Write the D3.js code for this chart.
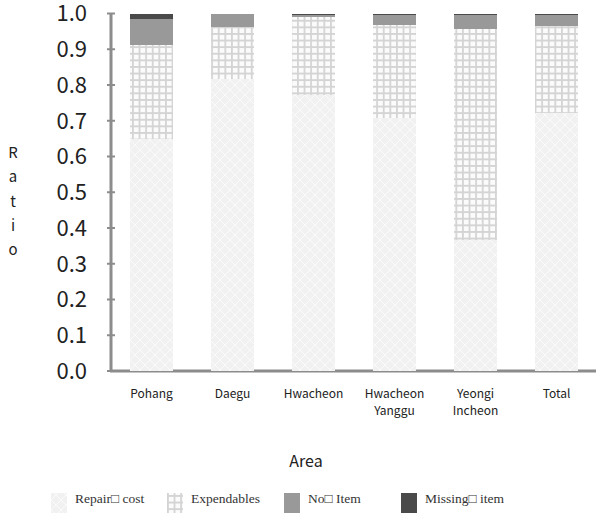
<!DOCTYPE html>
<html><head><meta charset="utf-8">
<script src="https://cdn.jsdelivr.net/npm/d3@7"></script>
<style>body{margin:0;background:#fff}svg{display:block}</style>
</head><body>
<svg id="c" width="596" height="514"></svg>
<script>
const categories = ["Pohang","Daegu","Hwacheon","Hwacheon\nYanggu","Yeongi\nIncheon","Total"];
const seriesNames = ["Repair\u25A1 cost","Expendables","No\u25A1 Item","Missing\u25A1 item"];
const repairCost  = [0.649, 0.818, 0.772, 0.708, 0.366, 0.722];
const expendables = [0.262, 0.145, 0.218, 0.260, 0.591, 0.243];
const noItem      = [0.075, 0.037, 0.006, 0.029, 0.040, 0.031];
const missingItem = [0.014, 0.000, 0.004, 0.003, 0.003, 0.004];
const yTicks = [0,0.1,0.2,0.3,0.4,0.5,0.6,0.7,0.8,0.9,1.0];

const svg = d3.select("#c");
const defs = svg.append("defs");
// repair pattern: light gray with faint white diamond lattice
const p1 = defs.append("pattern").attr("id","pRepair").attr("patternUnits","userSpaceOnUse").attr("width",10).attr("height",10);
p1.append("rect").attr("width",10).attr("height",10).attr("fill","#f1f1f1");
p1.append("path").attr("d","M0,0L10,10M10,0L0,10").attr("stroke","#fafafa").attr("stroke-width",1);
// expendables: grid
const p2 = defs.append("pattern").attr("id","pExp").attr("patternUnits","userSpaceOnUse").attr("width",6.6).attr("height",6.6);
p2.append("rect").attr("width",6.6).attr("height",6.6).attr("fill","#fbfbfb");
p2.append("path").attr("d","M0.9,0V6.6M0,0.9H6.6").attr("stroke","#d4d4d4").attr("stroke-width",1.8);

const fills = ["url(#pRepair)","url(#pExp)","#999999","#4a4a4a"];

const x = d3.scaleBand().domain(categories).range([111,597]).paddingInner(0.48).paddingOuter(0.24);
const y = d3.scaleLinear().domain([0,1]).range([371,13.5]);

const rows = categories.map((c,i)=>({cat:c, v:[repairCost[i],expendables[i],noItem[i],missingItem[i]]}));
const stacked = d3.stack().keys([0,1,2,3]).value((d,k)=>d.v[k])(rows);

// x axis line
svg.append("line").attr("x1",110).attr("x2",596).attr("y1",371).attr("y2",371)
  .attr("stroke","#8c8c8c").attr("stroke-width",3);

// bars
svg.selectAll("g.layer").data(stacked).join("g").attr("class","layer")
  .attr("fill",(d,i)=>fills[i])
  .selectAll("rect").data(d=>d).join("rect")
  .attr("x",d=>x(d.data.cat)).attr("width",x.bandwidth())
  .attr("y",d=>y(d[1])).attr("height",d=>Math.max(0,y(d[0])-y(d[1])))
  .attr("shape-rendering","crispEdges");

// y axis
const gy = svg.append("g");
gy.append("line").attr("x1",111).attr("x2",111).attr("y1",y(1)).attr("y2",372).attr("stroke","#8c8c8c").attr("stroke-width",3);
gy.selectAll("line.t").data(yTicks).join("line").attr("class","t")
  .attr("x1",107).attr("x2",115).attr("y1",d=>y(d)).attr("y2",d=>y(d))
  .attr("stroke","#8c8c8c").attr("stroke-width",2);
gy.selectAll("text").data(yTicks).join("text")
  .attr("x",87).attr("y",d=>y(d)).attr("dy","0.36em").attr("text-anchor","end")
  .attr("font-family","'Noto Sans CJK KR', 'Noto Sans', sans-serif").attr("font-size",22).attr("fill","#222")
  .text(d=>d3.format(".1f")(d));

// x tick labels
const xl = svg.append("g").selectAll("text").data(categories).join("text")
  .attr("x",d=>x(d)+x.bandwidth()/2).attr("y",398).attr("text-anchor","middle")
  .attr("font-family","'Noto Sans CJK KR', 'Noto Sans', sans-serif").attr("font-size",12).attr("fill","#222");
xl.each(function(d){
  const t=d3.select(this);
  d.split("\n").forEach((s,i)=>t.append("tspan").attr("x",x(d)+x.bandwidth()/2).attr("dy",i?17:0).text(s));
});

// axis titles
svg.append("text").attr("x",306).attr("y",467).attr("text-anchor","middle")
  .attr("font-family","'Noto Sans CJK KR', 'Noto Sans', sans-serif").attr("font-size",16).attr("fill","#222").text("Area");
const yt = svg.append("text").attr("text-anchor","middle")
  .attr("font-family","'Noto Sans CJK KR', 'Noto Sans', sans-serif").attr("font-size",15).attr("fill","#222");
"Ratio".split("").forEach((ch,i)=>yt.append("tspan").attr("x",13).attr("y",158+i*24.3).text(ch));

// legend
const lx = [51,167,284,401];
const lg = svg.append("g").selectAll("g").data(seriesNames).join("g")
  .attr("transform",(d,i)=>`translate(${lx[i]},0)`);
lg.append("rect").attr("x",0).attr("y",493).attr("width",16).attr("height",20).attr("fill",(d,i)=>fills[i]);
lg.append("text").attr("x",24).attr("y",503).attr("font-family","'Liberation Serif', 'DejaVu Serif', serif")
  .attr("font-size",13.5).attr("fill","#333").text(d=>d);
</script>
</body></html>
